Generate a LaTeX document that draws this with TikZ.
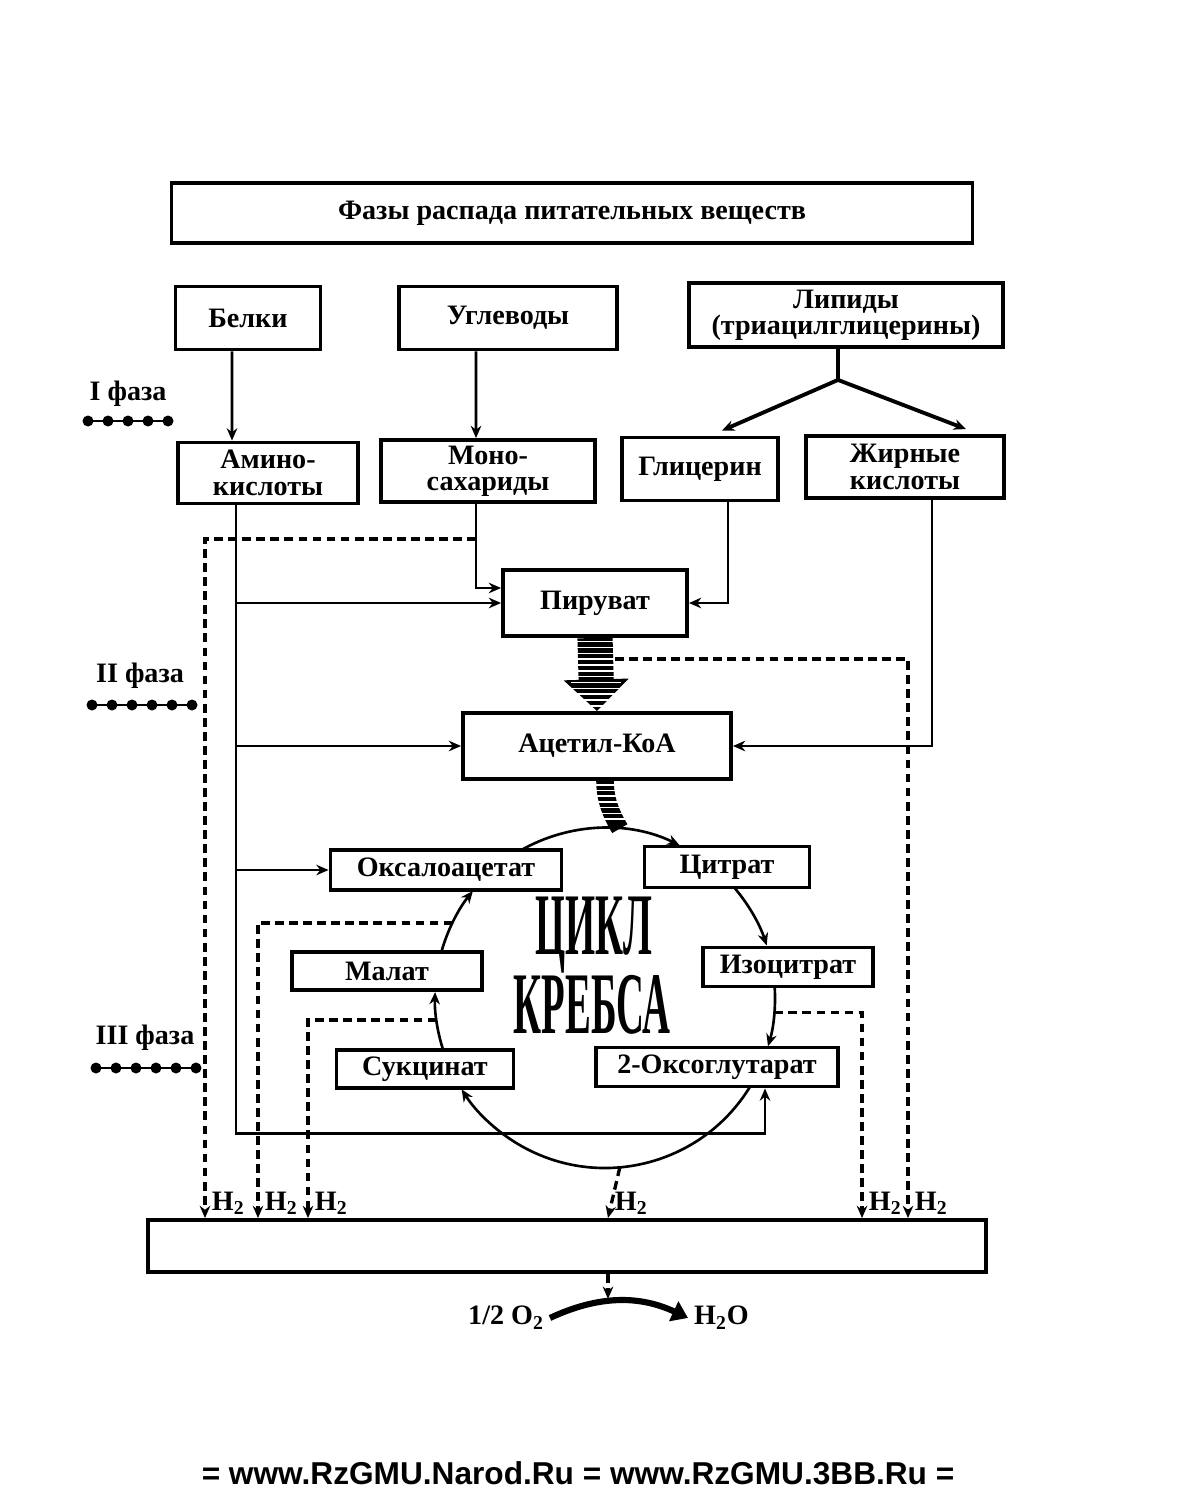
\documentclass[tikz,border=0pt]{standalone}
\usepackage{fontspec}
\setmainfont{Liberation Serif}
\setsansfont{Liberation Sans}
\usepackage{graphicx}
\usetikzlibrary{positioning}
\usetikzlibrary{arrows.meta}
\usetikzlibrary{calc}

\begin{document}
\begin{tikzpicture}[
    x=0.2mm, y=-0.2mm,
    every node/.style={font=\fontsize{16}{15}\selectfont\bfseries},
    box/.style={rectangle, draw, line width=2.2pt, align=center, inner sep=2pt},
    conn/.style={line width=1.5pt},
    hline/.style={line width=1.9pt, dash pattern=on 5pt off 3pt},
    arrowed/.style={-{Stealth[length=7pt,width=6pt]}},
    hlab/.style={anchor=south west, inner sep=1pt, xshift=2pt},
    fat/.style={line width=20pt, -{Triangle[length=18pt,width=36pt]}},
    stripe/.style={white, line width=0.9pt},
  ]
  \useasboundingbox (0,0) rectangle (1200,1502);

  %Nodes
  \node[box, minimum width=160.2mm, minimum height=12mm] (title) at (572,213) {Фазы распада питательных веществ};

  \node[box, minimum width=29mm, minimum height=12.6mm]   (belki)  at (248,318) {Белки};
  \node[box, minimum width=43.6mm, minimum height=12.6mm] (uglev)  at (508,318) {Углеводы};
  \node[box, minimum width=62.8mm, minimum height=12.8mm] (lipid)  at (846,315) {Липиды\\(триацилглицерины)};

  \node[box, minimum width=36mm, minimum height=12.2mm]   (amino)  at (268,473) {Амино-\\кислоты};
  \node[box, minimum width=42.8mm, minimum height=12.4mm] (mono)   at (488,471) {Моно-\\сахариды};
  \node[box, minimum width=31.2mm, minimum height=12.6mm] (glic)   at (700,469) {Глицерин};
  \node[box, minimum width=39.6mm, minimum height=12.4mm] (fatty)  at (905,467) {Жирные\\кислоты};

  \node[box, minimum width=36.8mm, minimum height=13.2mm] (pyr)    at (595,603) {Пируват};
  \node[box, minimum width=53.6mm, minimum height=13.2mm] (acoa)   at (597,746) {Ацетил-КоА};

  \node[box, minimum width=46.2mm, minimum height=8mm]    (oxa)    at (446,870) {Оксалоацетат};
  \node[box, minimum width=33mm, minimum height=8.2mm]    (cit)    at (727,867) {Цитрат};
  \node[box, minimum width=34mm, minimum height=7.8mm]    (icit)   at (788,967) {Изоцитрат};
  \node[box, minimum width=48.4mm, minimum height=7.8mm]  (oxg)    at (717,1067) {2-Оксоглутарат};
  \node[box, minimum width=35.4mm, minimum height=7.6mm]  (succ)   at (425,1069) {Сукцинат};
  \node[box, minimum width=38mm, minimum height=7.6mm]    (mal)    at (387,971) {Малат};

  \node[box, minimum width=167.6mm, minimum height=10.4mm] (resp)  at (567,1246) {};

  \node[font=\fontsize{50}{50}\selectfont\bfseries] (kname1) at (594,935) {\scalebox{0.44}[1]{ЦИКЛ}};
  \node[font=\fontsize{50}{50}\selectfont\bfseries] (kname2) at (592,1005) {\scalebox{0.44}[1]{КРЕБСА}};

  %Phases
  \node (ph1) at (128,394) {I фаза};
  \node (ph2) at (140,676) {II фаза};
  \node (ph3) at (145,1038) {III фаза};
  \draw[line width=1.5pt] (88,421) -- (168,421);
  \foreach \px in {88,108,...,168} \fill (\px,421) circle[radius=1.1mm];
  \draw[line width=1.5pt] (92,705) -- (192,705);
  \foreach \px in {92,112,...,192} \fill (\px,705) circle[radius=1.1mm];
  \draw[line width=1.5pt] (96,1068) -- (196,1068);
  \foreach \px in {96,116,...,196} \fill (\px,1068) circle[radius=1.1mm];

  %Lines, phase I
  \draw[conn, arrowed] ([xshift=-3.2mm]belki.south) -- ([xshift=-7.2mm]amino.north);
  \draw[conn, arrowed] ([xshift=-6.4mm]uglev.south) -- ([xshift=-2.4mm]mono.north);
  \coordinate (lfork) at ([xshift=-1.6mm,yshift=-6.2mm]lipid.south);
  \draw[line width=2.2pt] ([xshift=-1.6mm]lipid.south) -- (lfork);
  \draw[line width=2.2pt, arrowed] (lfork) -- ([xshift=4.4mm,yshift=1mm]glic.north);
  \draw[line width=2.2pt, arrowed] (lfork) -- ([xshift=12.2mm,yshift=1mm]fatty.north);

  %Lines, phase II
  \coordinate (ax) at ([xshift=-6.4mm]amino.south);
  \draw[conn, arrowed] (ax) |- ([xshift=9.6mm,yshift=-9mm]oxg.south) -- ([xshift=9.6mm]oxg.south);
  \draw[conn, arrowed] (pyr.west -| ax) -- (pyr.west);
  \draw[conn, arrowed] (acoa.west -| ax) -- (acoa.west);
  \draw[conn, arrowed] (oxa.west -| ax) -- (oxa.west);
  \draw[conn, arrowed] ([xshift=-2.4mm]mono.south) |- ([yshift=3mm]pyr.west);
  \draw[conn, arrowed] ([xshift=5.6mm]glic.south) |- (pyr.east);
  \draw[conn, arrowed] ([xshift=5.4mm]fatty.south) |- (acoa.east);

  %Hatched arrows
  \draw[fat] (pyr.south) -- (acoa.north);
  \foreach \t in {0.05,0.13,...,0.95}
    \draw[stripe] ($(pyr.south)!\t!(acoa.north)+(-25,0)$) -- ++(50,0);
  \coordinate (ktop) at ($(605,998)+(85:34mm)$);
  \draw[line width=10pt] ([xshift=1.6mm]acoa.south) .. controls +(0,-4mm) and +(-1.5mm,2.5mm) .. (ktop);
  \foreach \t in {0.08,0.2,...,0.9}
    \draw[stripe] ($([xshift=1.6mm]acoa.south)!\t!(ktop)+(-15,0)$) -- ++(30,0);

  %Krebs cycle
  \coordinate (kc) at (605,998);
  \draw[conn, arrowed] ($(kc)+(119.5:34mm)$) arc[start angle=119.5, end angle=64, radius=34mm];
  \draw[conn, arrowed] ($(kc)+(40.3:34mm)$) arc[start angle=40.3, end angle=18, radius=34mm];
  \draw[conn, arrowed] ($(kc)+(3.7:34mm)$) arc[start angle=3.7, end angle=-16.5, radius=34mm];
  \draw[conn, arrowed] ($(kc)+(-31.6:34mm)$) arc[start angle=-31.6, end angle=-147.5, radius=34mm];
  \draw[conn, arrowed] ($(kc)+(-162.2:34mm)$) arc[start angle=-162.2, end angle=-182, radius=34mm];
  \draw[conn, arrowed] ($(kc)+(164.3:34mm)$) arc[start angle=164.3, end angle=141, radius=34mm];

  %H2 lines
  \draw[hline, arrowed] ([xshift=-2.4mm,yshift=-7mm]mono.south) -| ([xshift=-72.4mm]resp.north) node[hlab] {H\textsubscript{2}};
  \draw[hline, arrowed] ($(kc)+(153.8:34mm)$) -| ([xshift=-61.8mm]resp.north) node[hlab] {H\textsubscript{2}};
  \draw[hline, arrowed] ($(kc)+(187.4:34mm)$) -| ([xshift=-51.8mm]resp.north) node[hlab] {H\textsubscript{2}};
  \draw[hline, arrowed] ($(kc)+(-85:34mm)$) -- ([xshift=8.2mm]resp.north) node[hlab] {H\textsubscript{2}};
  \draw[hline, arrowed] ($(kc)+(-5:34mm)$) -| ([xshift=59mm]resp.north) node[hlab] {H\textsubscript{2}};
  \draw[hline, arrowed] ([xshift=4mm,yshift=-4.2mm]pyr.south) -| ([xshift=68.2mm]resp.north) node[hlab] {H\textsubscript{2}};

  %Oxygen
  \coordinate (ox) at ([xshift=8.2mm,yshift=-5mm]resp.south);
  \draw[hline, arrowed] ([xshift=8.2mm]resp.south) -- (ox);
  \node[anchor=east] (o2) at ([xshift=-11.6mm,yshift=-3.8mm]ox) {1/2 O\textsubscript{2}};
  \node[anchor=west] (h2o) at ([xshift=16mm,yshift=-3.8mm]ox) {H\textsubscript{2}O};
  \draw[line width=3.5pt, -{Triangle[length=9pt,width=12pt]}] (o2.east) to[bend left=25] (h2o.west);

  \node[font=\fontsize{18}{20}\selectfont\sffamily\bfseries] (site) at (578,1473) {= www.RzGMU.Narod.Ru = www.RzGMU.3BB.Ru =};
\end{tikzpicture}
\end{document}
